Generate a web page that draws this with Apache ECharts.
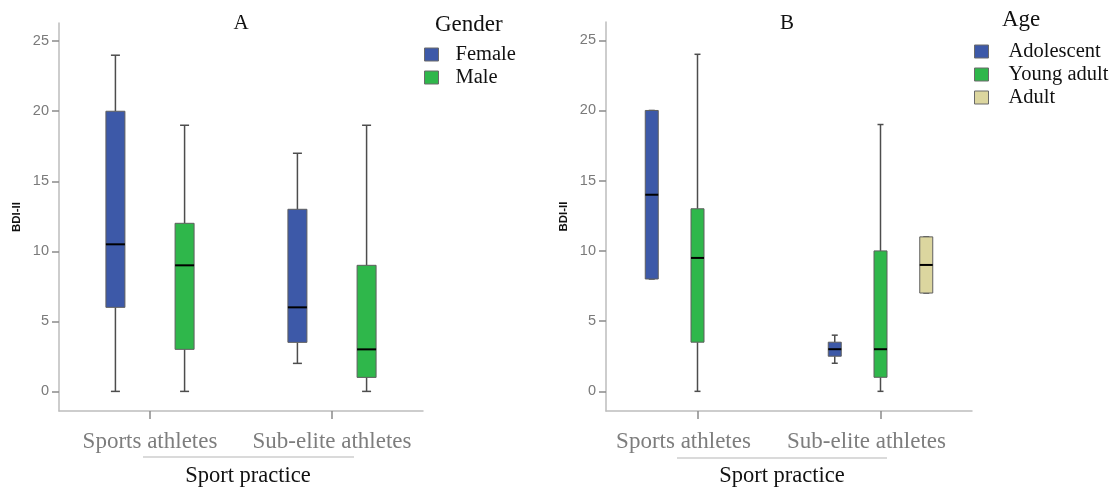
<!DOCTYPE html>
<html>
<head>
<meta charset="utf-8">
<title>BDI-II by sport practice</title>
<script src="https://cdn.jsdelivr.net/npm/echarts@6/dist/echarts.min.js"></script>
<style>
  html, body { margin: 0; padding: 0; background: #fff; }
  #chart { width: 1117px; height: 488px; }
</style>
</head>
<body>
<div id="chart"></div>
<script>
// Sport practice groups on the x axis
const categories = ['Sports athletes', 'Sub-elite athletes'];
// BDI-II tick labels
const yTicks = [0, 5, 10, 15, 20, 25];

// Box summaries per group: [min, Q1, median, Q3, max]
// Panel A – gender
const female = [[0, 6, 10.5, 20, 24], [2, 3.5, 6, 13, 17]];
const male = [[0, 3, 9, 12, 19], [0, 1, 3, 9, 19]];
// Panel B – age
const adolescent = [[8, 8, 14, 20, 20], [2, 2.5, 3, 3.5, 4]];
const youngAdult = [[0, 3.5, 9.5, 13, 24], [0, 1, 3, 10, 19]];
const adult = [null, [7, 7, 9, 11, 11]];

const SERIF = '"Liberation Serif", "Times New Roman", serif';
const SANS = '"Liberation Sans", Arial, sans-serif';

function toRows(list) {
  return list.map((v, i) => (v ? [i].concat(v) : null)).filter(Boolean);
}

// Box-and-whisker drawn through the axis scales
function boxRenderer(offsetFrac, boxW, capW) {
  return function (params, api) {
    const cat = api.value(0);
    const band = api.size([1, 0])[0];
    const cx = api.coord([cat, 0])[0] + offsetFrac * band;
    const y = (d) => api.coord([cat, api.value(d)])[1];
    const yMin = y(1), yQ1 = y(2), yMed = y(3), yQ3 = y(4), yMax = y(5);
    const whisker = { stroke: '#4d4d4d', lineWidth: 1.5 };
    const seg = (x1, y1, x2, y2, style) => ({
      type: 'line', shape: { x1, y1, x2, y2 }, style
    });
    return {
      type: 'group',
      children: [
        seg(cx, yMax, cx, yQ3, whisker),
        seg(cx, yQ1, cx, yMin, whisker),
        seg(cx - capW / 2, yMax, cx + capW / 2, yMax, whisker),
        seg(cx - capW / 2, yMin, cx + capW / 2, yMin, whisker),
        {
          type: 'rect',
          shape: { x: cx - boxW / 2, y: yQ3, width: boxW, height: yQ1 - yQ3 },
          style: { fill: api.visual('color'), stroke: '#5f5f5f', lineWidth: 1 }
        },
        seg(cx - boxW / 2, yMed, cx + boxW / 2, yMed, { stroke: '#000', lineWidth: 2 })
      ]
    };
  };
}

function valueAxis(gridIndex) {
  return {
    type: 'value',
    gridIndex,
    min: -1.4,
    max: 26.3,
    name: 'BDI-II',
    nameLocation: 'middle',
    nameGap: 36,
    nameTextStyle: { fontFamily: SANS, fontSize: 11.5, fontWeight: 'bold', color: '#111' },
    axisLine: { show: true, lineStyle: { color: '#bdbdbd', width: 1.5 } },
    axisTick: { show: true, customValues: yTicks, length: 7, lineStyle: { color: '#8a8a8a', width: 1.5 } },
    axisLabel: { customValues: yTicks, margin: 10, color: '#7a7a7a', fontFamily: SANS, fontSize: 14.5 },
    splitLine: { show: false }
  };
}

// labelPad / namePad nudge the centred texts sideways
function categoryAxis(gridIndex, labelPad, namePad) {
  return {
    type: 'category',
    gridIndex,
    data: categories,
    boundaryGap: true,
    name: 'Sport practice',
    nameLocation: 'middle',
    nameGap: 54,
    nameTextStyle: { fontFamily: SERIF, fontSize: 22.5, color: '#111', padding: namePad },
    axisLine: { show: true, onZero: false, lineStyle: { color: '#bdbdbd', width: 1.5 } },
    axisTick: { show: true, alignWithLabel: true, length: 8, lineStyle: { color: '#8a8a8a', width: 1.5 } },
    axisLabel: {
      interval: 0, hideOverlap: false, margin: 19, padding: labelPad,
      color: '#7d7d7d', fontFamily: SERIF, fontSize: 23
    },
    splitLine: { show: false }
  };
}

const BLUE = '#3d59a8';
const GREEN = '#2fb74b';
const BEIGE = '#dcd69f';

function boxSeries(name, list, axisIndex, color, offsetFrac, boxW, capW) {
  return {
    type: 'custom',
    name,
    xAxisIndex: axisIndex,
    yAxisIndex: axisIndex,
    itemStyle: { color },
    encode: { x: 0, y: [1, 2, 3, 4, 5] },
    renderItem: boxRenderer(offsetFrac, boxW, capW),
    data: toRows(list)
  };
}

const legendText = { fontFamily: SERIF, fontSize: 20.5, lineHeight: 20, color: '#111' };
const headText = { fontFamily: SERIF, fontWeight: 'normal', color: '#111' };

const option = {
  animation: false,
  backgroundColor: '#fff',
  title: [
    { text: 'A', left: 236, top: 8, textAlign: 'center',
      textStyle: Object.assign({ fontSize: 21 }, headText) },
    { text: 'B', left: 782, top: 8, textAlign: 'center',
      textStyle: Object.assign({ fontSize: 21 }, headText) },
    { text: 'Gender', left: 435, top: 13, padding: 0,
      textStyle: Object.assign({ fontSize: 23 }, headText) },
    { text: 'Age', left: 1002, top: 8, padding: 0,
      textStyle: Object.assign({ fontSize: 23 }, headText) }
  ],
  legend: [
    {
      data: ['Female', 'Male'],
      orient: 'vertical', left: 424, top: 44, padding: 0,
      icon: 'rect', itemWidth: 14, itemHeight: 13, itemGap: 2,
      itemStyle: { borderColor: '#6a6a6a', borderWidth: 1 },
      textStyle: Object.assign({ padding: [0, 0, 0, 12] }, legendText),
      selectedMode: false
    },
    {
      data: ['Adolescent', 'Young adult', 'Adult'],
      orient: 'vertical', left: 974, top: 41, padding: 0,
      icon: 'rect', itemWidth: 14, itemHeight: 13, itemGap: 2,
      itemStyle: { borderColor: '#6a6a6a', borderWidth: 1 },
      textStyle: Object.assign({ padding: [0, 0, 0, 15] }, legendText),
      selectedMode: false
    }
  ],
  grid: [
    { left: 59, top: 23, width: 364, height: 388, outerBoundsMode: 'none' },
    { left: 606, top: 22, width: 366, height: 389, outerBoundsMode: 'none' }
  ],
  xAxis: [
    categoryAxis(0, [0, 0, 0, 0], [0, 0, 0, 14]),
    categoryAxis(1, [0, 28, 0, 0], [0, 14, 0, 0])
  ],
  yAxis: [valueAxis(0), valueAxis(1)],
  series: [
    boxSeries('Female', female, 0, BLUE, -0.19, 19, 9),
    boxSeries('Male', male, 0, GREEN, 0.19, 19, 9),
    boxSeries('Adolescent', adolescent, 1, BLUE, -0.25, 13, 6),
    boxSeries('Young adult', youngAdult, 1, GREEN, 0, 13, 6),
    boxSeries('Adult', adult, 1, BEIGE, 0.25, 13, 6)
  ],
  graphic: [
    { type: 'line', shape: { x1: 143, y1: 457, x2: 354, y2: 457 },
      style: { stroke: '#b5b5b5', lineWidth: 1.2 } },
    { type: 'line', shape: { x1: 677, y1: 458, x2: 887, y2: 458 },
      style: { stroke: '#b5b5b5', lineWidth: 1.2 } }
  ]
};

const chart = echarts.init(document.getElementById('chart'), null, { renderer: 'canvas' });
chart.setOption(option);
</script>
</body>
</html>
